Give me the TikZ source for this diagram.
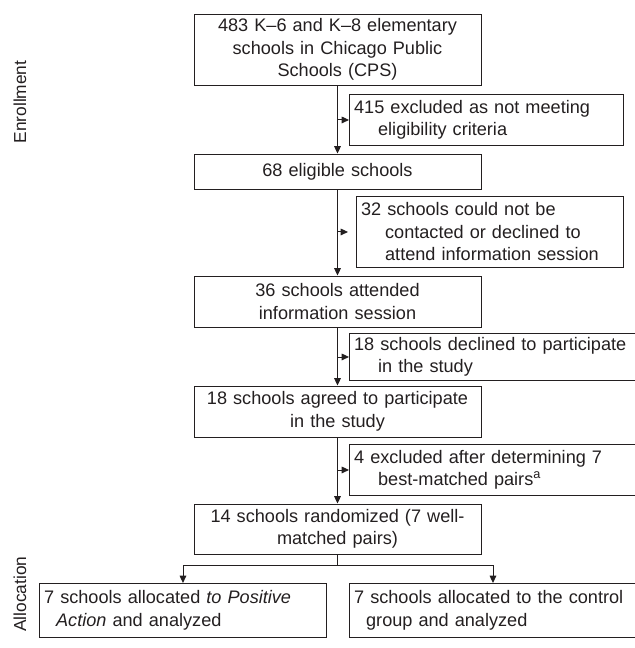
\documentclass[tikz,border=0pt]{standalone}
\usepackage{fontspec}
\setmainfont{Liberation Sans}
\usetikzlibrary{arrows.meta,calc}
\definecolor{ink}{RGB}{35,31,32}
\begin{document}
\begin{tikzpicture}[x=0.75pt,y=-0.75pt,
  every node/.style={font=\fontsize{13.6pt}{16.9pt}\selectfont, text=ink},
  box/.style={draw=ink, line width=0.7pt, rectangle, inner xsep=3.5pt, inner ysep=0pt},
  mainbox/.style={box, minimum width=215.25pt, text width=208.25pt, align=center},
  sidebox/.style={box, anchor=north west, align=left},
  lab/.style={rotate=90, font=\fontsize{13pt}{15pt}\selectfont},
  conn/.style={draw=ink, line width=0.7pt},
  arr/.style={conn, -{Triangle[length=5.5pt,width=5pt]}}
]
\useasboundingbox (0,0) rectangle (634,648);

% labels
\node[lab] (enr) at (20,102) {Enrollment};
\node[lab] (alc) at (20,594) {Allocation};

% main column
\node[mainbox, minimum height=53.25pt] (b1) at (337.5,49.5)
  {483 K–6 and K–8 elementary\\ schools in Chicago Public\\ Schools (CPS)};
\node[mainbox, minimum height=26.25pt] (b2) at (337.5,171.5) {68 eligible schools};
\node[mainbox, minimum height=38.25pt] (b3) at (337.5,301.5)
  {36 schools attended\\ information session};
\node[mainbox, minimum height=38.25pt] (b4) at (337.5,411.5)
  {18 schools agreed to participate\\ in the study};
\node[mainbox, minimum height=37.5pt] (b5) at (337.5,529)
  {14 schools randomized (7 well-\\ matched pairs)};

% side boxes
\node[sidebox, text width=198.5pt, minimum height=38.25pt] (s1) at (349,94)
  {415 excluded as not meeting\\ \hspace*{18pt}eligibility criteria};
\node[sidebox, text width=193.25pt, minimum height=53.25pt] (s2) at (356,196)
  {32 schools could not be\\ \hspace*{18pt}contacted or declined to\\ \hspace*{18pt}attend information session};
\node[sidebox, text width=208.25pt, minimum height=35.25pt] (s3) at (349,333)
  {18 schools declined to participate\\ \hspace*{18pt}in the study};
\node[sidebox, text width=208.25pt, minimum height=38.25pt] (s4) at (349,444)
  {4 excluded after determining 7\\ \hspace*{18pt}best-matched pairs\textsuperscript{a}};

% allocation boxes
\node[sidebox, text width=208.25pt, minimum height=40.5pt] (l) at (39,583)
  {7 schools allocated \textit{to Positive}\\ \hspace*{9pt}\textit{Action} and analyzed};
\node[sidebox, text width=208.25pt, minimum height=40.5pt] (r) at (349,583)
  {7 schools allocated to the control\\ \hspace*{9pt}group and analyzed};

% vertical flow
\draw[arr] (b1) -- (b2);
\draw[arr] (b2) -- (b3);
\draw[arr] (b3) -- (b4);
\draw[arr] (b4) -- (b5);

% side arrows
\draw[arr] (b1.south |- s1.west) -- (s1.west);
\coordinate (s2t) at ([xshift=-6pt]s2.west);
\draw[arr] (b2.south |- s2.west) -- (s2t);
\draw[arr] (b3.south |- s3.west) -- (s3.west);
\draw[arr] (b4.south |- s4.west) -- (s4.west);

% split
\coordinate (split) at (337.5,565);
\draw[conn] (b5.south) -- (split);
\draw[arr] (split) -| (l.north);
\draw[arr] (split) -| (r.north);
\end{tikzpicture}
\end{document}
